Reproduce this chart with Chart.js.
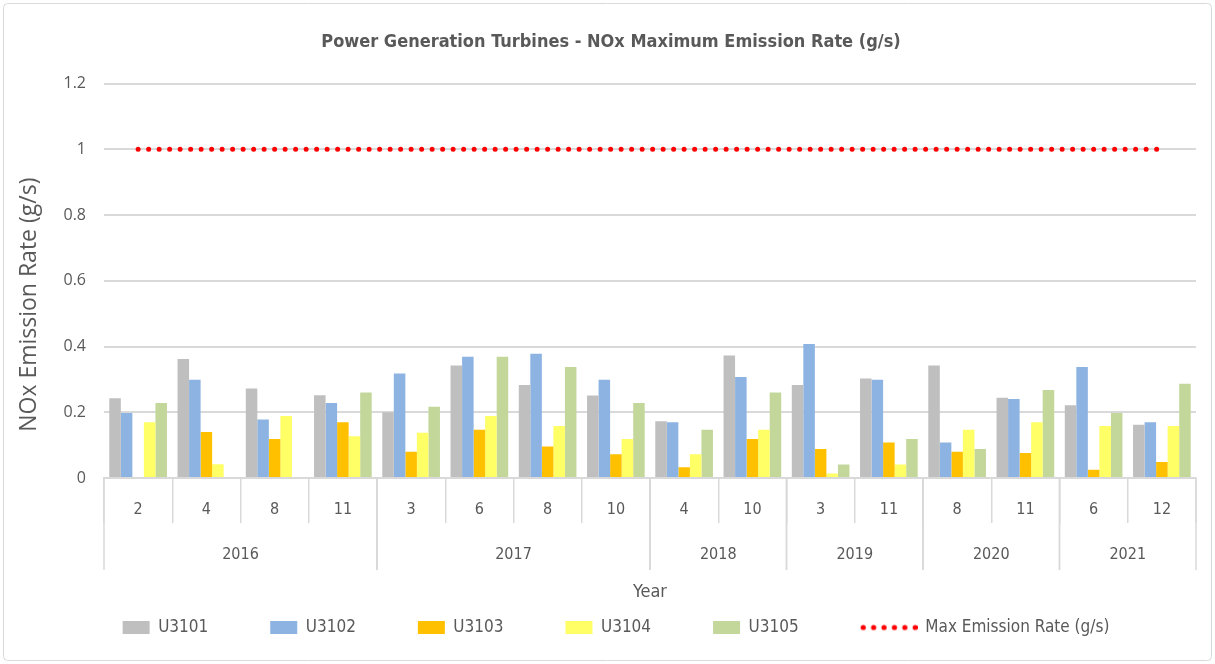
<!DOCTYPE html>
<html>
<head>
<meta charset="utf-8">
<script src="https://cdn.jsdelivr.net/npm/chart.js@4"></script>
<style>
  html, body { margin: 0; padding: 0; background: #fff; }
  #wrap { width: 1215px; height: 664px; }
</style>
</head>
<body>
<div id="wrap"><canvas id="nox-chart"></canvas></div>
<script>
// category labels: sample month, grouped by year
const years  = ['2016','2016','2016','2016','2017','2017','2017','2017','2018','2018','2019','2019','2020','2020','2021','2021'];
const months = ['2','4','8','11','3','6','8','10','4','10','3','11','8','11','6','12'];

// NOx max emission rate per turbine (g/s)
const u3101 = [0.243, 0.362, 0.272, 0.252, 0.200, 0.342, 0.283, 0.251, 0.173, 0.373, 0.283, 0.303, 0.342, 0.244, 0.221, 0.162];
const u3102 = [0.198, 0.299, 0.178, 0.228, 0.318, 0.369, 0.378, 0.299, 0.170, 0.307, 0.408, 0.299, 0.108, 0.240, 0.338, 0.170];
const u3103 = [null, 0.140, 0.119, 0.170, 0.080, 0.147, 0.096, 0.072, 0.033, 0.119, 0.088, 0.108, 0.080, 0.076, 0.025, 0.049];
const u3104 = [0.170, 0.042, 0.189, 0.127, 0.138, 0.189, 0.158, 0.119, 0.072, 0.147, 0.014, 0.041, 0.147, 0.170, 0.158, 0.158];
const u3105 = [0.228, null, null, 0.260, 0.217, 0.369, 0.338, 0.228, 0.147, 0.260, 0.041, 0.119, 0.088, 0.268, 0.198, 0.287];
const maxRate = [1, 1, 1, 1, 1, 1, 1, 1, 1, 1, 1, 1, 1, 1, 1, 1];

const yTicks = [0, 0.2, 0.4, 0.6, 0.8, 1, 1.2];

const textColor = '#595959';
const gridColor = '#d9d9d9';
const narrow = "'Liberation Sans Narrow', 'DejaVu Sans Condensed', Arial, sans-serif";

// wide dotted legend symbol for the limit line (sits in the right part of the canvas)
const dotsIcon = document.createElement('canvas');
dotsIcon.width = 87;
dotsIcon.height = 8;
{
  const c = dotsIcon.getContext('2d');
  c.fillStyle = '#ff0000';
  for (let i = 0; i < 6; i++) {
    c.beginPath();
    c.arc(32.5 + i * 10.4, 4, 2.6, 0, Math.PI * 2);
    c.fill();
  }
}

// year row under the month labels + the long separators between years
const yearGroups = {
  id: 'yearGroups',
  afterDraw(chart) {
    const x = chart.scales.x;
    const ctx = chart.ctx;
    const half = (x.getPixelForValue(1) - x.getPixelForValue(0)) / 2;
    const top = x.top;
    ctx.save();
    ctx.strokeStyle = gridColor;
    ctx.lineWidth = 1.5;
    ctx.fillStyle = textColor;
    ctx.font = '16px ' + narrow;
    ctx.textAlign = 'center';
    ctx.textBaseline = 'middle';
    let start = 0;
    for (let i = 1; i <= years.length; i++) {
      if (i === years.length || years[i] !== years[start]) {
        const x0 = x.getPixelForValue(start) - half;
        const x1 = x.getPixelForValue(i - 1) + half;
        ctx.beginPath();
        ctx.moveTo(x0, top); ctx.lineTo(x0, top + 92);
        ctx.moveTo(x1, top); ctx.lineTo(x1, top + 92);
        ctx.stroke();
        ctx.fillText(years[start], (x0 + x1) / 2, top + 77);
        start = i;
      }
    }
    ctx.restore();
  }
};

// light frame round the whole chart
const frame = {
  id: 'frame',
  beforeDraw(chart) {
    const ctx = chart.ctx;
    ctx.save();
    ctx.strokeStyle = gridColor;
    ctx.lineWidth = 1;
    ctx.beginPath();
    ctx.roundRect(3.5, 3.5, chart.width - 7, chart.height - 7, 4);
    ctx.stroke();
    ctx.restore();
  }
};

// the legend uses wide padding for the gaps between items, pull it back up;
// title and legend sit a little right of the plot centre in the original
const boxShift = {
  id: 'boxShift',
  afterLayout(chart) {
    const lg = chart.legend;
    lg.top -= 57;
    lg.left += 18;
    lg.right += 18;
    chart.titleBlock.left += 13;
    chart.titleBlock.right += 13;
  }
};

const barSet = (label, data, color) => ({
  label: label,
  data: data,
  backgroundColor: color,
  borderWidth: 0,
  pointStyle: 'rect',
  barPercentage: 1,
  categoryPercentage: 0.845
});

new Chart(document.getElementById('nox-chart'), {
  type: 'bar',
  data: {
    labels: months,
    datasets: [
      barSet('U3101', u3101, '#bfbfbf'),
      barSet('U3102', u3102, '#8db3e2'),
      barSet('U3103', u3103, '#ffc000'),
      barSet('U3104', u3104, '#ffff66'),
      barSet('U3105', u3105, '#c4d79b'),
      {
        type: 'line',
        label: 'Max Emission Rate (g/s)',
        data: maxRate,
        borderColor: '#ff0000',
        backgroundColor: '#ff0000',
        borderWidth: 5,
        borderDash: [0, 10.5],
        borderCapStyle: 'round',
        pointRadius: 0,
        fill: false
      }
    ]
  },
  plugins: [frame, yearGroups, boxShift],
  options: {
    responsive: true,
    maintainAspectRatio: false,
    animation: false,
    layout: { padding: { left: 0, right: 19, top: 0, bottom: 2 } },
    plugins: {
      title: {
        display: true,
        text: 'Power Generation Turbines - NOx Maximum Emission Rate (g/s)',
        color: textColor,
        font: { family: narrow, size: 18, weight: 'bold' },
        padding: { top: 32, bottom: 30 }
      },
      legend: {
        position: 'bottom',
        maxHeight: 48,
        labels: {
          usePointStyle: true,
          pointStyleWidth: 27,
          boxWidth: 27,
          boxHeight: 13,
          padding: 62,
          color: textColor,
          font: { family: narrow, size: 17 },
          generateLabels(chart) {
            const items = Chart.defaults.plugins.legend.labels.generateLabels(chart);
            const last = items[items.length - 1];
            last.pointStyle = dotsIcon;
            last.text = '      ' + last.text;
            return items;
          }
        }
      },
      tooltip: { enabled: false }
    },
    scales: {
      x: {
        offset: true,
        afterFit(scale) { scale.height = 136; },
        grid: {
          offset: true,
          drawOnChartArea: false,
          drawTicks: true,
          tickLength: 45,
          color: gridColor,
          lineWidth: 1.5
        },
        border: { display: true, color: gridColor, width: 2 },
        ticks: {
          color: textColor,
          font: { family: narrow, size: 16 },
          padding: -23,
          maxRotation: 0,
          autoSkip: false
        },
        title: {
          display: true,
          text: 'Year',
          color: textColor,
          font: { family: narrow, size: 18 },
          padding: { top: 0, bottom: 11 }
        }
      },
      y: {
        min: 0,
        max: 1.2,
        afterFit(scale) { scale.width = 104; },
        afterBuildTicks(scale) { scale.ticks = yTicks.map(v => ({ value: v })); },
        grid: { color: gridColor, lineWidth: 2, drawTicks: false },
        border: { display: false },
        ticks: {
          color: textColor,
          font: { family: "'Open Sans', sans-serif", size: 16 },
          padding: 18,
          callback: (v) => String(Math.round(v * 10) / 10)
        },
        title: {
          display: true,
          text: 'NOx Emission Rate (g/s)        ',
          color: textColor,
          font: { family: "'Open Sans', sans-serif", size: 23 },
          padding: { top: 16, bottom: 0 }
        }
      }
    }
  }
});
</script>
</body>
</html>
